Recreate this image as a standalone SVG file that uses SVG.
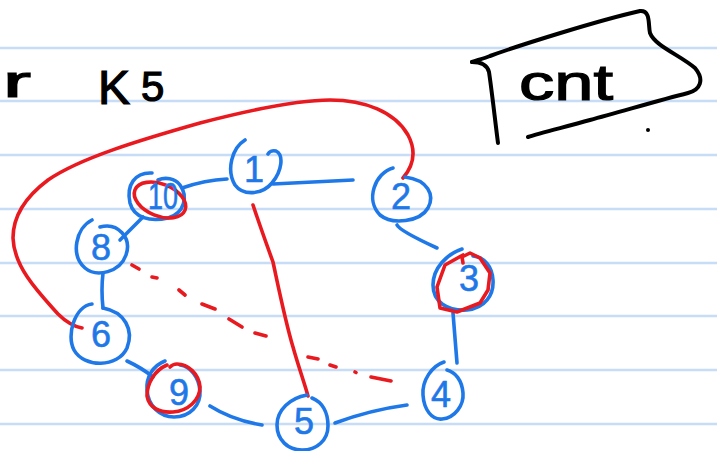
<svg xmlns="http://www.w3.org/2000/svg" width="717" height="451" viewBox="0 0 717 451">
  <style>
    .rule { stroke: #c6dcf7; stroke-width: 2.5; }
    .ink { fill: none; stroke-linecap: round; stroke-linejoin: round; }
    .blue { stroke: #1f78e8; stroke-width: 3.6; }
    .red { stroke: #e8191f; stroke-width: 3.6; }
    .black { stroke: #000; stroke-width: 4; }
    .lbl { font-family: "Liberation Sans", Arial, sans-serif; font-size: 36px; fill: #1f78e8; stroke: #1f78e8; stroke-width: 0.6; text-anchor: middle; }
    .hand { font-family: "Liberation Sans", Arial, sans-serif; fill: #000; stroke: #000; stroke-width: 1.2; }
  </style>

  <rect width="717" height="451" fill="#fff"/>

  <!-- ruled paper -->
  <g id="paper">
    <line class="rule" x1="0" y1="48" x2="717" y2="48"/>
    <line class="rule" x1="0" y1="101" x2="717" y2="101"/>
    <line class="rule" x1="0" y1="155" x2="717" y2="155"/>
    <line class="rule" x1="0" y1="209" x2="717" y2="209"/>
    <line class="rule" x1="0" y1="263" x2="717" y2="263"/>
    <line class="rule" x1="0" y1="316" x2="717" y2="316"/>
    <line class="rule" x1="0" y1="370" x2="717" y2="370"/>
    <line class="rule" x1="0" y1="424" x2="717" y2="424"/>
  </g>

  <!-- heading -->
  <g id="heading">
    <text class="hand" x="3" y="97" font-size="44" textLength="28" lengthAdjust="spacingAndGlyphs">r</text>
    <text class="hand" x="98" y="104" font-size="48">K</text>
    <text class="hand" x="141" y="101" font-size="42">5</text>
  </g>

  <!-- boxed note -->
  <g id="cnt-box">
    <path class="ink black" d="M472,62 C478,60 485,58 490,56 C520,45 600,20 640,11 C651,10 648,25 650,33 C655,46 680,55 695,68 C705,80 700,90 688,93 C660,100 620,112 590,120 C565,127 540,133 528,137"/>
    <path class="ink black" d="M472,62 C480,62 487,64 489,72 C492,92 495,120 498,143"/>
    <circle cx="648" cy="130" r="2" fill="#000"/>
    <text class="hand" x="519" y="100" font-size="50" textLength="94" lengthAdjust="spacingAndGlyphs">cnt</text>
  </g>

  <!-- connectors -->
  <g id="connectors">
    <path class="ink blue" d="M182,188 Q205,180 227,179"/>
    <path class="ink blue" d="M273,184 L353,180"/>
    <path class="ink blue" d="M397,225 Q400,231 437,248"/>
    <path class="ink blue" d="M453,313 L457,363"/>
    <path class="ink blue" d="M407,405 Q370,410 335,423"/>
    <path class="ink blue" d="M210,406 Q232,420 262,425"/>
    <path class="ink blue" d="M127,361 Q142,368 153,377"/>
    <path class="ink blue" d="M103,273 Q101,290 103,308"/>
    <path class="ink blue" d="M120,240 L143,217"/>

    <!-- cut edges -->
    <path class="ink red" d="M82,328 C72,326 64,320 58,314 C40,294 14,268 13,238 C13,215 28,195 48,180 C80,158 140,140 200,123 C250,110 300,100 330,100 C365,100 395,112 408,135 C416,150 414,165 403,178"/>
    <path class="ink red" d="M253,205 C258,220 265,240 273,262 C278,285 285,320 293,347 C298,365 305,385 308,396"/>
    <path class="ink red" stroke-width="3" d="M132,265 L139,269 M152,277 L157,278 M179,290 L185,295 M202,304 L215,309 M229,319 L242,327 M255,333 L266,336 M308,357 L318,359 M330,365 L336,367 M355,372 L356,372.5 M371,377 L391,381"/>
  </g>

  <!-- nodes -->
  <g id="node-1">
    <path class="ink blue" d="M245,140 C232,148 226,170 235,185 C243,196 262,195 272,183 C282,171 284,155 276,151 C272,150 269,152 268,154"/>
    <text class="lbl" x="254" y="182">1</text>
  </g>
  <g id="node-2">
    <path class="ink blue" d="M393,168 C375,173 365,200 380,215 C392,225 420,222 428,208 C435,195 428,180 405,177"/>
    <text class="lbl" x="401" y="209">2</text>
  </g>
  <g id="node-3">
    <path class="ink blue" d="M462,249 C447,254 433,268 433,285 C433,302 447,311 467,310 C485,308 494,295 493,280 C492,266 484,257 473,256"/>
    <path class="ink red" stroke-width="3.2" d="M463,255 L445,265 L437,287 L440,308 L457,312 L480,303 L488,290 L490,273 L480,258 L470,253 L462,257 L463,263"/>
    <text class="lbl" x="469" y="291">3</text>
  </g>
  <g id="node-4">
    <path class="ink blue" d="M444,362 C432,366 422,380 423,395 C424,410 432,420 442,419 C455,418 464,405 463,393 C462,380 455,372 447,370"/>
    <text class="lbl" x="441" y="407">4</text>
  </g>
  <g id="node-5">
    <path class="ink blue" d="M307,395 C290,398 277,410 277,425 C277,440 288,450 302,450 C317,450 328,440 328,426 C328,412 322,402 312,398"/>
    <text class="lbl" x="304" y="434">5</text>
  </g>
  <g id="node-6">
    <path class="ink blue" d="M92,304 C75,306 66,335 74,350 C84,368 118,368 127,348 C134,330 125,312 103,308"/>
    <text class="lbl" x="101" y="347" font-size="44">6</text>
  </g>
  <g id="node-8">
    <path class="ink blue" d="M92,220 C76,228 70,255 85,268 C97,278 120,272 126,255 C132,238 118,222 100,227"/>
    <text class="lbl" x="101" y="260">8</text>
  </g>
  <g id="node-9">
    <path class="ink blue" d="M165,361 C152,366 146,378 147,390 C148,406 160,417 174,417 C190,417 201,405 200,391 C199,377 190,366 180,365"/>
    <path class="ink red" stroke-width="3.2" d="M167,365 C155,370 147,383 147,396 C149,408 160,413 173,412 C188,411 200,400 200,387 C199,374 188,364 177,364 C173,364 171,366 170,367"/>
    <text class="lbl" x="179" y="405">9</text>
  </g>
  <g id="node-10">
    <path class="ink blue" d="M152,173 C135,172 126,185 130,203 C134,218 150,222 168,218 C185,213 188,196 180,185 C175,178 165,177 158,180"/>
    <ellipse class="ink red" stroke-width="3.2" cx="160" cy="200" rx="27" ry="16" transform="rotate(22 160 200)"/>
    <text class="lbl" x="163" y="209" textLength="30" lengthAdjust="spacingAndGlyphs">10</text>
  </g>
</svg>
